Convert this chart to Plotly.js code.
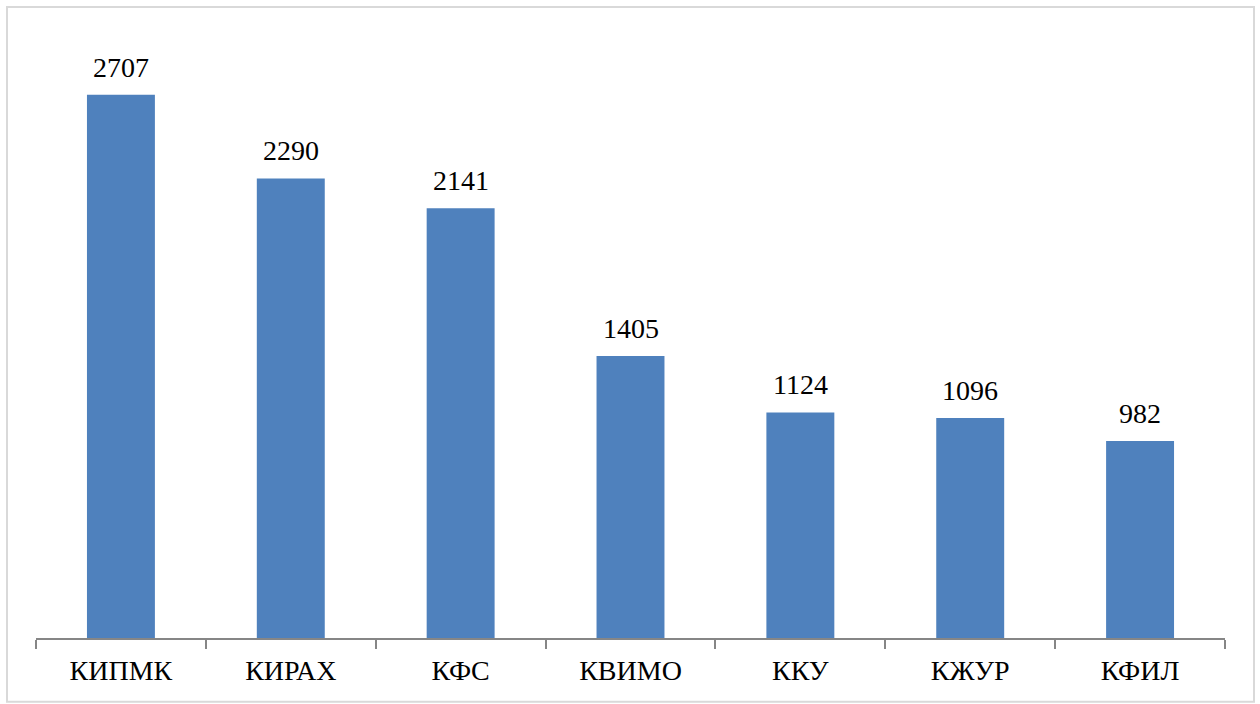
<!DOCTYPE html>
<html><head><meta charset="utf-8">
<script src="https://cdn.plot.ly/plotly-3.0.1.min.js"></script>
<style>body{margin:0;background:#fff}</style></head>
<body>
<div id="chart"></div>
<script>
const categories = ["КИПМК","КИРАХ","КФС","КВИМО","ККУ","КЖУР","КФИЛ"];
const values = [2707, 2290, 2141, 1405, 1124, 1096, 982];
const FONT = "Liberation Serif";

const trace = {
  type: "bar",
  x: categories,
  y: values,
  width: 0.4,
  marker: {color: "#4F81BD"}
};
const annotations = categories.map((c, i) => ({
  x: c, y: values[i], xref: "x", yref: "y",
  text: String(values[i]), showarrow: false,
  yanchor: "bottom", yshift: 10,
  font: {family: FONT, size: 28, color: "#000"}
}));
const layout = {
  width: 1260, height: 703,
  margin: {l: 36, r: 35, t: 36, b: 65},
  showlegend: false,
  annotations: annotations,
  shapes: [{
    type: "rect", xref: "paper", yref: "paper",
    x0: -0.0244, x1: 1.0244, y0: -0.106, y1: 1.048,
    line: {color: "#d9d9d9", width: 2}, fillcolor: "rgba(0,0,0,0)", layer: "below"
  }],
  xaxis: {
    type: "category",
    showline: true, linecolor: "#868686", linewidth: 2,
    ticks: "outside", tickson: "boundaries", ticklen: 9, tickwidth: 2, tickcolor: "#868686",
    ticklabelstandoff: 6,
    tickfont: {family: FONT, size: 28, color: "#000"},
    showgrid: false, zeroline: false
  },
  yaxis: {range: [0, 3000], visible: false}
};
Plotly.newPlot("chart", [trace], layout, {displayModeBar: false});
</script>
</body></html>
